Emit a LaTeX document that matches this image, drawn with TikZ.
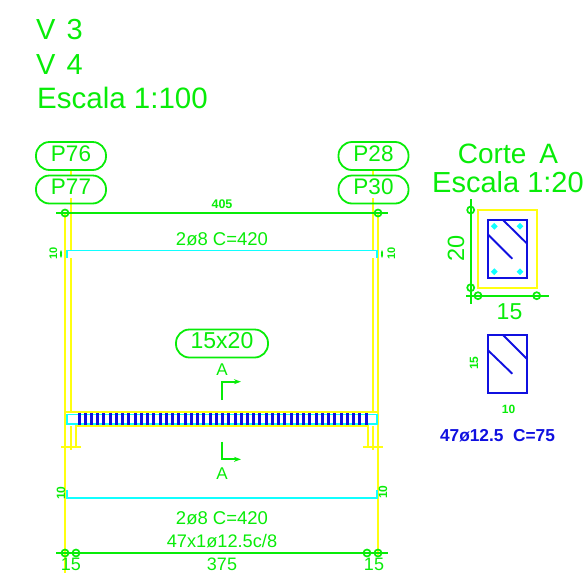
\documentclass[tikz,border=0pt]{standalone}
\usepackage{fontspec}
\setmainfont{Liberation Sans}
\usetikzlibrary{arrows.meta, shapes.geometric}
\definecolor{cadgreen}{HTML}{08EC08}
\definecolor{cadyellow}{HTML}{FFFF10}
\definecolor{cadcyan}{HTML}{10FFFF}
\definecolor{cadblue}{HTML}{1010E0}
\newcommand{\fsize}[1]{\fontsize{#1}{#1}\selectfont}
\tikzset{
  txt/.style={text=cadgreen, inner sep=0pt, anchor=base},
  pill/.style={draw=cadgreen, line width=1.8pt, rounded corners=13.5pt, minimum height=28pt,
    minimum width=70pt, inner sep=0pt, text=cadgreen, text height=16pt, text depth=6pt,
    font=\fsize{22.5}},
  dimline/.style={draw=cadgreen, line width=1.8pt},
  dimdot/.style={circle, draw=cadgreen, line width=1.7pt, minimum size=7pt, inner sep=0pt},
  yel/.style={draw=cadyellow, line width=1.9pt},
  cya/.style={draw=cadcyan, line width=1.9pt},
  blu/.style={draw=cadblue, line width=1.9pt},
  tick/.style={draw=cadblue, line width=3pt},
  bar/.style={fill=cadcyan, diamond, inner sep=0pt, minimum size=7pt}
}
\begin{document}
\begin{tikzpicture}[x=1pt, y=-1pt]
\useasboundingbox (0, 0) rectangle (588, 573);

\node[txt, anchor=base west, font=\fsize{29}] (v3) at (36, 39) {V\hspace{11pt}3};
\node[txt, anchor=base west, font=\fsize{29}] (v4) at (36, 74) {V\hspace{11pt}4};
\node[txt, anchor=base west, font=\fsize{29.5}] (esc) at (37, 108) {Escala 1:100};

\draw[yel] (65, 213) -- (65, 573);
\draw[yel] (378, 213) -- (378, 555);
\foreach \x in {70.7, 373} {
    \draw[yel] (\x, 170) -- (\x, 175);
    \draw[yel] (\x, 198) -- (\x, 250);
    \draw[yel] (\x, 258) -- (\x, 412);
    \draw[yel] (\x, 426) -- (\x, 450);
}

\draw[cya] (66.7, 258) -- (66.7, 250.5) -- (377, 250.5) -- (377, 258);
\draw[cya] (66.7, 490) -- (66.7, 498) -- (377, 498) -- (377, 490);
\draw[cya] (66.7, 414.5) rectangle (377, 424);
\foreach \x in {79, 85.24, ..., 366.5} {
    \draw[tick] (\x, 413) -- (\x, 425.5);
}
\draw[yel] (65, 412) -- (378, 412);
\draw[yel] (76, 447) -- (76, 426) -- (367.7, 426) -- (367.7, 447);
\draw[yel] (61, 446.7) -- (81, 446.7);
\draw[yel] (363, 446.7) -- (383, 446.7);

\node[pill] (p76) at (71, 156) {P76};
\node[pill] (p77) at (71, 189.5) {P77};
\node[pill] (p28) at (373.5, 156) {P28};
\node[pill] (p30) at (373.5, 189.5) {P30};

\coordinate (topl) at (56, 213);
\coordinate (topr) at (388, 213);
\coordinate (botl) at (56, 553);
\coordinate (botr) at (388, 553);
\draw[dimline] (topl) -- (topr);
\draw[dimline] (botl) -- (botr);
\node[dimdot] (topa) at (65, 213) {};
\node[dimdot] (topb) at (378, 213) {};
\node[dimdot] (bota) at (65, 553) {};
\node[dimdot] (botb) at (76, 553) {};
\node[dimdot] (botc) at (367, 553) {};
\node[dimdot] (botd) at (378, 553) {};

\node[txt, font=\bfseries\fsize{12.5}] (l405) at (222, 208) {405};
\node[txt, font=\fsize{18.5}] (l2a) at (222, 245.5) {2ø8 C=420};
\node[txt, font=\fsize{18.5}] (l2b) at (222, 524) {2ø8 C=420};
\node[txt, font=\fsize{18.2}] (l47) at (222, 547) {47x1ø12.5c/8};
\node[txt, font=\fsize{18}] (l15a) at (71, 570.5) {15};
\node[txt, font=\fsize{18}] (l375) at (222, 570.5) {375};
\node[txt, font=\fsize{18}] (l15b) at (374, 570.5) {15};

\node[txt, rotate=90, font=\bfseries\fsize{11}] (h10a) at (57, 253) {10};
\node[txt, rotate=90, font=\bfseries\fsize{11}] (h10b) at (395, 253) {10};
\node[txt, rotate=90, font=\bfseries\fsize{12}] (h10c) at (65, 493) {10};
\node[txt, rotate=90, font=\bfseries\fsize{12}] (h10d) at (387, 492) {10};
\draw[dimline, {Stealth[length=3pt]}-{Stealth[length=3pt]}] (61, 250) -- (61, 258);
\draw[dimline, {Stealth[length=3pt]}-{Stealth[length=3pt]}] (382, 250) -- (382, 258);

\node[pill, minimum width=92pt, font=\fsize{23}] (beam) at (222, 343.5) {15x20};
\node[txt, font=\fsize{17}] (au) at (222, 375) {A};
\node[txt, font=\fsize{17}] (ad) at (222, 479) {A};
\coordinate (upa) at (221.7, 400);
\coordinate (upb) at (221.7, 381.7);
\coordinate (upc) at (241, 381.7);
\coordinate (doa) at (221.7, 441.7);
\coordinate (dob) at (221.7, 459.3);
\coordinate (doc) at (241, 459.3);
\draw[dimline, -{Stealth[length=7pt, width=5pt]}] (upa) -- (upb) -- (upc);
\draw[dimline, -{Stealth[length=7pt, width=5pt]}] (doa) -- (dob) -- (doc);

\node[txt, font=\fsize{28}] (cor) at (508, 163) {Corte\hspace{13pt}A};
\node[txt, font=\fsize{29}] (esc2) at (508, 192) {Escala 1:20};

\draw[yel] (478, 210) rectangle (536.7, 287.7);
\draw[blu] (487.7, 220) rectangle (526.7, 278.3);
\draw[blu] (503, 220) -- (526.7, 243.3);
\draw[blu] (487.7, 234.3) -- (512.3, 258.7);
\foreach \x in {494.3, 520} {
    \foreach \y in {226.3, 271.7} {
        \node[bar] at (\x, \y) {};
    }
}
\coordinate (vtop) at (470.7, 199);
\coordinate (vbot) at (470.7, 304);
\coordinate (hlef) at (466, 295.7);
\coordinate (hrig) at (548.7, 295.7);
\draw[dimline] (vtop) -- (vbot);
\draw[dimline] (hlef) -- (hrig);
\node[dimdot] (va) at (470.7, 210) {};
\node[dimdot] (vb) at (470.7, 287.7) {};
\node[dimdot] (ha) at (478, 295.7) {};
\node[dimdot] (hb) at (536.7, 295.7) {};
\node[txt, rotate=90, font=\fsize{23.5}] (s20) at (464, 248) {20};
\node[txt, font=\fsize{23}] (s15) at (509.5, 319) {15};

\draw[blu] (487.7, 335) rectangle (526.7, 392.7);
\draw[blu] (503, 335) -- (526.7, 358.7);
\draw[blu] (487.7, 350) -- (512.3, 373.7);
\node[txt, rotate=90, font=\bfseries\fsize{12}] (t15) at (478, 363) {15};
\node[txt, font=\bfseries\fsize{12}] (t10) at (508.5, 413) {10};
\node[txt, text=cadblue, font=\bfseries\fsize{17.3}] (t47) at (497.5, 441.5) {47ø12.5\ \ C=75};
\end{tikzpicture}
\end{document}
